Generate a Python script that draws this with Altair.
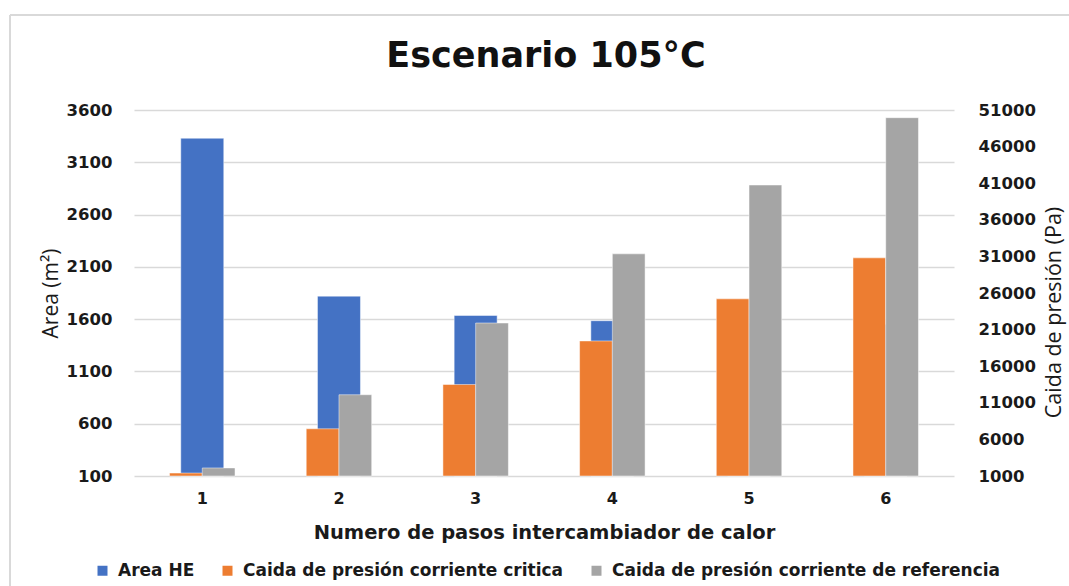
import altair as alt
import pandas as pd

categories = ["1", "2", "3", "4", "5", "6"]
area_he = [3330, 1820, 1635, 1585, 1560, 1550]
caida_critica = [1400, 7450, 13500, 19450, 25200, 30800]
caida_referencia = [2100, 12100, 21900, 31350, 40750, 49950]

series_names = ["Area HE", "Caida de presión corriente critica",
                "Caida de presión corriente de referencia"]
series_colors = ["#4472C4", "#ED7D31", "#A5A5A5"]
left_ticks = [100, 600, 1100, 1600, 2100, 2600, 3100, 3600]
right_ticks = [1000, 6000, 11000, 16000, 21000, 26000, 31000, 36000, 41000, 46000, 51000]
title_text = "Escenario 105°C"

WIDE = "'DejaVu Sans', Verdana, sans-serif"

df_area = pd.DataFrame({"paso": categories, "valor": area_he, "serie": series_names[0]})
df_p = pd.concat([
    pd.DataFrame({"paso": categories, "valor": caida_critica, "serie": series_names[1]}),
    pd.DataFrame({"paso": categories, "valor": caida_referencia, "serie": series_names[2]}),
])

color = alt.Color("serie:N", scale=alt.Scale(domain=series_names, range=series_colors),
                  legend=alt.Legend(title=None, orient="none", direction="horizontal",
                                    legendX=-40, legendY=452, symbolType="square",
                                    symbolSize=100, symbolStrokeWidth=0,
                                    labelFont=WIDE, labelFontWeight="bold",
                                    labelFontSize=17, labelColor="#1a1a1a", labelLimit=600,
                                    columnPadding=24, labelOffset=7))

xaxis = alt.Axis(title="Numero de pasos intercambiador de calor", labelAngle=0,
                 labelFont=WIDE, labelFontWeight="bold", labelFontSize=16,
                 labelColor="#1a1a1a", labelPadding=14, ticks=False, domain=False,
                 titleFont=WIDE, titleFontWeight="bold", titleFontSize=19.5,
                 titleColor="#1a1a1a", titlePadding=17)
xscale = alt.Scale(paddingInner=0.521, paddingOuter=0.26)

blue = alt.Chart(df_area).mark_bar(size=43, stroke="white", strokeWidth=0.8,
                                   strokeOpacity=0.6).encode(
    x=alt.X("paso:N", scale=xscale, axis=xaxis, sort=categories),
    y=alt.Y("valor:Q", scale=alt.Scale(domain=[100, 3600], zero=False, nice=False),
            axis=alt.Axis(title="Area (m²)", values=left_ticks, orient="left", format="d",
                          labelFont=WIDE, labelFontWeight="bold", labelFontSize=16.5,
                          labelColor="#1a1a1a", labelPadding=22, ticks=False, domain=False,
                          grid=True, gridColor="#d9d9d9", gridWidth=1.5,
                          titleFont="Open Sans", titleFontSize=21, titleFontWeight="normal",
                          titleColor="#1a1a1a", titlePadding=5)),
    y2=alt.datum(100),
    color=color,
)

other = alt.Chart(df_p).mark_bar(stroke="white", strokeWidth=0.8, strokeOpacity=0.6).encode(
    x=alt.X("paso:N", scale=xscale, axis=xaxis, sort=categories),
    xOffset=alt.XOffset("serie:N", sort=series_names[1:],
                        scale=alt.Scale(paddingInner=0, paddingOuter=0)),
    y=alt.Y("valor:Q", scale=alt.Scale(domain=[1000, 51000], zero=False, nice=False),
            axis=alt.Axis(title="Caida de presión (Pa)", values=right_ticks, orient="right",
                          format="d",
                          labelFont=WIDE, labelFontWeight="bold", labelFontSize=16.5,
                          labelColor="#1a1a1a", labelPadding=24, ticks=False, domain=False,
                          grid=False, titleAngle=270, titleX=100, titleY=202,
                          titleAlign="center", titleBaseline="middle",
                          titleFont="Open Sans", titleFontSize=21.5, titleFontWeight="normal",
                          titleColor="#1a1a1a")),
    y2=alt.datum(1000),
    color=color,
)

frame_df = pd.DataFrame({"k": [0]})
frame_left = alt.Chart(frame_df).mark_rule(color="#d9d9d9", strokeWidth=2).encode(
    x=alt.value(-124), y=alt.value(-95), y2=alt.value(480))
frame_top = alt.Chart(frame_df).mark_rule(color="#d9d9d9", strokeWidth=2).encode(
    x=alt.value(-124), x2=alt.value(940), y=alt.value(-95))
title_mark = alt.Chart(frame_df).mark_text(
    text=title_text, font=WIDE, fontSize=35, fontWeight="bold", color="#111111",
    align="center", baseline="alphabetic").encode(x=alt.value(412), y=alt.value(-43))

chart = alt.layer(frame_left, frame_top, title_mark, blue, other).resolve_scale(
    y="independent"
).properties(
    width=820, height=366,
    autosize=alt.AutoSizeParams(type="none"),
    padding={"left": 134, "top": 110, "right": 115, "bottom": 110},
    background="white",
).configure_view(stroke=None)

chart.save("out.html", embed_options={"renderer": "svg", "actions": False})
